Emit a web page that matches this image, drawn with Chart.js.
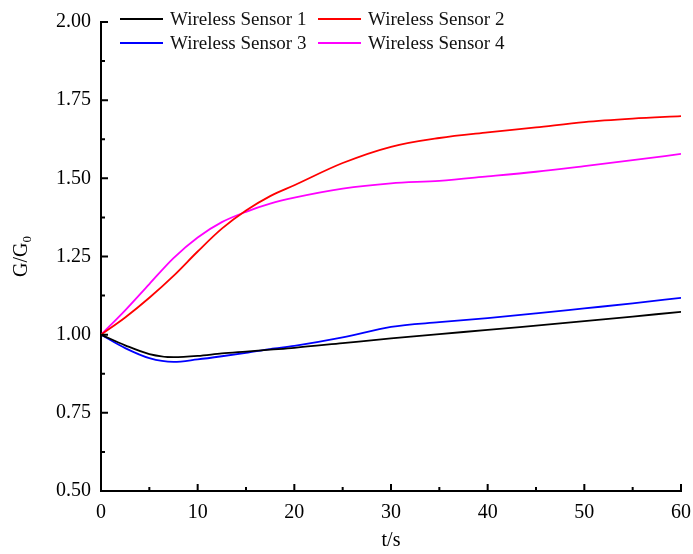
<!DOCTYPE html>
<html>
<head>
<meta charset="utf-8">
<script src="https://cdn.jsdelivr.net/npm/chart.js@4/dist/chart.umd.min.js"></script>
<style>
  html, body { margin: 0; padding: 0; background: #fff; }
  #wrap { width: 693px; height: 554px; }
</style>
</head>
<body>
<div id="wrap"><canvas id="chart" width="693" height="554"></canvas></div>
<script>
const times = [0, 2.5, 5, 7.5, 10, 12.5, 15, 17.5, 20, 25, 30, 35, 40, 45, 50, 55, 60];
const sensor1 = [1.000, 0.966, 0.938, 0.928, 0.932, 0.940, 0.946, 0.952, 0.958, 0.973, 0.988, 1.002, 1.015, 1.029, 1.043, 1.058, 1.073];
const sensor2 = [1.000, 1.055, 1.118, 1.188, 1.266, 1.339, 1.397, 1.443, 1.478, 1.549, 1.601, 1.629, 1.647, 1.663, 1.680, 1.691, 1.699];
const sensor3 = [1.000, 0.957, 0.925, 0.913, 0.921, 0.931, 0.942, 0.954, 0.964, 0.991, 1.025, 1.040, 1.053, 1.068, 1.084, 1.100, 1.118];
const sensor4 = [1.000, 1.078, 1.162, 1.245, 1.311, 1.360, 1.393, 1.419, 1.438, 1.467, 1.484, 1.492, 1.506, 1.521, 1.539, 1.558, 1.578];

const seriesNames = ["Wireless Sensor 1", "Wireless Sensor 2", "Wireless Sensor 3", "Wireless Sensor 4"];
const seriesColors = ["#000000", "#ff0000", "#0000ff", "#ff00ff"];
const seriesValues = [sensor1, sensor2, sensor3, sensor4];

const xTicks = [0, 10, 20, 30, 40, 50, 60];
const yTicks = [0.50, 0.75, 1.00, 1.25, 1.50, 1.75, 2.00];

const FONT = "Liberation Serif, Times New Roman, serif";

function toPoints(vals) {
  return vals.map((v, i) => ({ x: times[i], y: v }));
}

// inward ticks, minor ticks, axis titles and the two-column legend
const decorations = {
  id: "decorations",
  afterDraw(chart) {
    const ctx = chart.ctx;
    const xs = chart.scales.x;
    const ys = chart.scales.y;
    const area = chart.chartArea;
    ctx.save();
    ctx.strokeStyle = "#000";
    ctx.lineWidth = 2;
    ctx.beginPath();
    xTicks.forEach((t) => {
      const px = xs.getPixelForValue(t);
      ctx.moveTo(px, area.bottom);
      ctx.lineTo(px, area.bottom - 7);
    });
    for (let i = 0; i < xTicks.length - 1; i++) {
      const px = xs.getPixelForValue((xTicks[i] + xTicks[i + 1]) / 2);
      ctx.moveTo(px, area.bottom);
      ctx.lineTo(px, area.bottom - 4);
    }
    yTicks.forEach((t) => {
      const py = ys.getPixelForValue(t);
      ctx.moveTo(area.left, py);
      ctx.lineTo(area.left + 7, py);
    });
    for (let i = 0; i < yTicks.length - 1; i++) {
      const py = ys.getPixelForValue((yTicks[i] + yTicks[i + 1]) / 2);
      ctx.moveTo(area.left, py);
      ctx.lineTo(area.left + 4, py);
    }
    ctx.stroke();

    // axis titles
    ctx.fillStyle = "#000";
    ctx.textBaseline = "middle";
    ctx.textAlign = "center";
    ctx.font = "20px " + FONT;
    ctx.fillText("t/s", (area.left + area.right) / 2, 541);

    ctx.save();
    ctx.translate(22, (area.top + area.bottom) / 2);
    ctx.rotate(-Math.PI / 2);
    ctx.font = "20px " + FONT;
    const main = "G/G";
    const wMain = ctx.measureText(main).width;
    ctx.font = "13px " + FONT;
    const wSub = ctx.measureText("0").width;
    const start = -(wMain + wSub) / 2;
    ctx.textAlign = "left";
    ctx.font = "20px " + FONT;
    ctx.fillText(main, start, 0);
    ctx.font = "13px " + FONT;
    ctx.fillText("0", start + wMain, 6);
    ctx.restore();

    // legend
    ctx.font = "19px " + FONT;
    ctx.textAlign = "left";
    const cols = [120, 318];
    const rows = [19, 43];
    chart.data.datasets.forEach((ds, i) => {
      const lx = cols[i % 2];
      const ly = rows[Math.floor(i / 2)];
      ctx.strokeStyle = ds.borderColor;
      ctx.lineWidth = 2;
      ctx.beginPath();
      ctx.moveTo(lx, ly);
      ctx.lineTo(lx + 43, ly);
      ctx.stroke();
      ctx.fillStyle = "#111";
      ctx.fillText(ds.label, lx + 50, ly + 1);
    });
    ctx.restore();
  }
};

new Chart(document.getElementById("chart"), {
  type: "line",
  data: {
    datasets: seriesValues.map((vals, i) => ({
      label: seriesNames[i],
      data: toPoints(vals),
      borderColor: seriesColors[i],
      backgroundColor: seriesColors[i],
      borderWidth: 1.8,
      pointRadius: 0,
      cubicInterpolationMode: "monotone",
      fill: false
    }))
  },
  options: {
    responsive: false,
    animation: false,
    layout: { padding: { top: 17, right: 12, left: 0, bottom: 0 } },
    plugins: {
      legend: { display: false },
      tooltip: { enabled: false }
    },
    scales: {
      x: {
        type: "linear",
        min: 0,
        max: 60,
        afterBuildTicks: (scale) => { scale.ticks = xTicks.map((v) => ({ value: v })); },
        afterFit: (scale) => {
          scale.height = 63;
          scale.paddingLeft = 0;
          scale.paddingRight = 0;
        },
        grid: { display: false, drawTicks: false },
        border: { display: true, color: "#000", width: 2 },
        ticks: {
          color: "#000",
          padding: 10,
          font: { family: FONT, size: 20 },
          maxRotation: 0
        }
      },
      y: {
        type: "linear",
        min: 0.5,
        max: 2.0,
        afterBuildTicks: (scale) => { scale.ticks = yTicks.map((v) => ({ value: v })); },
        afterFit: (scale) => { scale.width = 101; },
        grid: { display: false, drawTicks: false },
        border: { display: true, color: "#000", width: 2 },
        ticks: {
          color: "#000",
          padding: 10,
          font: { family: FONT, size: 20 },
          callback: (v) => Number(v).toFixed(2)
        }
      }
    }
  },
  plugins: [decorations]
});
</script>
</body>
</html>
